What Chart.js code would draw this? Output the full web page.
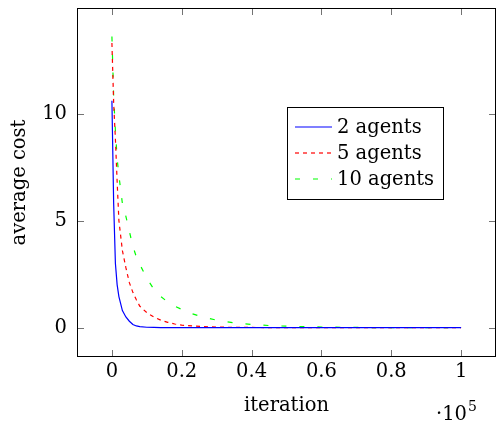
<!DOCTYPE html>
<html>
<head>
<meta charset="utf-8">
<script src="https://cdn.jsdelivr.net/npm/chart.js@4.4.1/dist/chart.umd.min.js"></script>
<style>
html, body { margin: 0; padding: 0; background: #fff; }
</style>
</head>
<body>
<canvas id="costChart" width="497" height="421"></canvas>
<script>
// Datos
const iterations = [0, 500, 1000, 1500, 2000, 3000, 4000, 5000, 6000, 7000, 8000, 10000, 12000, 14000, 16000, 18000, 20000, 23000, 26000, 30000, 35000, 40000, 45000, 50000, 60000, 70000, 80000, 90000, 100000];
const cost2  = [10.6, 5.8, 3.0, 2.0, 1.45, 0.8, 0.5, 0.3, 0.15, 0.08, 0.05, 0.02, 0.01, 0.005, 0, 0, 0, 0, 0, 0, 0, 0, 0, 0, 0, 0, 0, 0, 0];
const cost5  = [13.3, 10.5, 8.8, 6.8, 5.0, 3.6, 2.8, 2.1, 1.65, 1.3, 1.0, 0.7, 0.5, 0.35, 0.25, 0.17, 0.12, 0.08, 0.05, 0.03, 0.015, 0.01, 0.005, 0, 0, 0, 0, 0, 0];
const cost10 = [13.6, 10.8, 9.2, 7.9, 7.1, 5.8, 5.2, 4.5, 3.8, 3.3, 2.95, 2.3, 1.8, 1.45, 1.2, 1.0, 0.85, 0.65, 0.5, 0.35, 0.22, 0.15, 0.1, 0.07, 0.03, 0.01, 0, 0, 0];
const seriesLabels = ['2 agents', '5 agents', '10 agents'];
const xTicks = [0, 20000, 40000, 60000, 80000, 100000];
const yTicks = [0, 5, 10];

// Estilos de las series
const seriesColors = ['rgb(0,0,255)', 'rgb(255,0,0)', 'rgb(0,255,0)'];
const seriesDashes = [[], [4, 4], [5, 13]];

const serif = "'DejaVu Serif', 'Liberation Serif', serif";
const fontSize = 19.5;

const toPoints = (ys) => iterations.map((x, i) => ({ x: x, y: ys[i] }));

// Marco, marcas interiores, leyenda y exponente al estilo pgfplots
const pgfDecor = {
    id: 'pgfDecor',
    afterDraw(chart) {
        const ctx = chart.ctx;
        const a = chart.chartArea;
        const xs = chart.scales.x;
        const ys = chart.scales.y;
        const tl = 7;

        ctx.save();
        ctx.setLineDash([]);
        // marcas
        ctx.strokeStyle = 'rgba(0,0,0,0.55)';
        ctx.lineWidth = 1;
        ctx.beginPath();
        xTicks.forEach(v => {
            const px = Math.round(xs.getPixelForValue(v)) + 0.5;
            ctx.moveTo(px, a.bottom); ctx.lineTo(px, a.bottom - tl);
            ctx.moveTo(px, a.top); ctx.lineTo(px, a.top + tl);
        });
        yTicks.forEach(v => {
            const py = Math.round(ys.getPixelForValue(v)) + 0.5;
            ctx.moveTo(a.left, py); ctx.lineTo(a.left + tl, py);
            ctx.moveTo(a.right, py); ctx.lineTo(a.right - tl, py);
        });
        ctx.stroke();

        // marco
        ctx.strokeStyle = '#000';
        ctx.strokeRect(a.left + 0.5, a.top + 0.5, a.right - a.left - 1, a.bottom - a.top - 1);

        // leyenda
        const bx = Math.round(a.left + (a.right - a.left) * 0.501);
        const by = Math.round(a.top + (a.bottom - a.top) * 0.284);
        const bw = 156, bh = 92;
        ctx.fillStyle = '#fff';
        ctx.fillRect(bx, by, bw, bh);
        ctx.strokeStyle = '#000';
        ctx.strokeRect(bx + 0.5, by + 0.5, bw, bh);
        seriesLabels.forEach((label, i) => {
            const ry = by + 20 + i * 26;
            ctx.strokeStyle = seriesColors[i];
            ctx.lineWidth = 1.2;
            ctx.setLineDash(seriesDashes[i]);
            ctx.beginPath();
            ctx.moveTo(bx + 8, ry);
            ctx.lineTo(bx + 45, ry);
            ctx.stroke();
            ctx.setLineDash([]);
            ctx.fillStyle = '#000';
            ctx.font = fontSize + 'px ' + serif;
            ctx.textBaseline = 'middle';
            ctx.textAlign = 'left';
            ctx.fillText(label, bx + 50, ry + 1);
        });

        // ·10^5
        ctx.fillStyle = '#000';
        ctx.textBaseline = 'alphabetic';
        ctx.font = fontSize + 'px ' + serif;
        ctx.fillText('\u00b710', a.right - 60, 420);
        const w = ctx.measureText('\u00b710').width;
        ctx.font = '14px ' + serif;
        ctx.fillText('5', a.right - 60 + w + 1, 411);
        ctx.restore();
    }
};

const ctxCost = document.getElementById('costChart').getContext('2d');
const costChart = new Chart(ctxCost, {
    type: 'line',
    data: {
        datasets: [cost2, cost5, cost10].map((ys, i) => ({
            label: seriesLabels[i],
            data: toPoints(ys),
            borderColor: seriesColors[i],
            borderDash: seriesDashes[i]
        }))
    },
    options: {
        responsive: false,
        animation: false,
        layout: { padding: { top: 8, right: 1, left: 0, bottom: 0 } },
        elements: {
            line: { tension: 0, borderWidth: 1.2, fill: false },
            point: { radius: 0, hoverRadius: 0 }
        },
        scales: {
            x: {
                type: 'linear',
                min: -10000,
                max: 110000,
                grid: { display: false, drawTicks: false },
                border: { display: false },
                afterBuildTicks: (s) => { s.ticks = xTicks.map(v => ({ value: v })); },
                afterFit: (s) => { s.height = 64; s.paddingLeft = 0; s.paddingRight = 0; },
                ticks: {
                    color: '#000',
                    padding: 3,
                    maxRotation: 0,
                    font: { family: serif, size: fontSize },
                    callback: (v) => String(Math.round(v / 1e5 * 10) / 10)
                },
                title: {
                    display: true,
                    text: 'iteration',
                    color: '#000',
                    font: { family: serif, size: fontSize },
                    padding: { top: 0, bottom: 3 }
                }
            },
            y: {
                min: -1.37,
                max: 14.93,
                grid: { display: false, drawTicks: false },
                border: { display: false },
                afterBuildTicks: (s) => { s.ticks = yTicks.map(v => ({ value: v })); },
                afterFit: (s) => { s.width = 77; s.paddingTop = 0; s.paddingBottom = 0; },
                ticks: {
                    color: '#000',
                    padding: 10,
                    font: { family: serif, size: fontSize }
                },
                title: {
                    display: true,
                    text: 'average cost',
                    color: '#000',
                    font: { family: serif, size: fontSize },
                    padding: { top: 8, bottom: 0 }
                }
            }
        },
        plugins: {
            legend: { display: false },
            tooltip: { enabled: false }
        }
    },
    plugins: [pgfDecor]
});
</script>
</body>
</html>
